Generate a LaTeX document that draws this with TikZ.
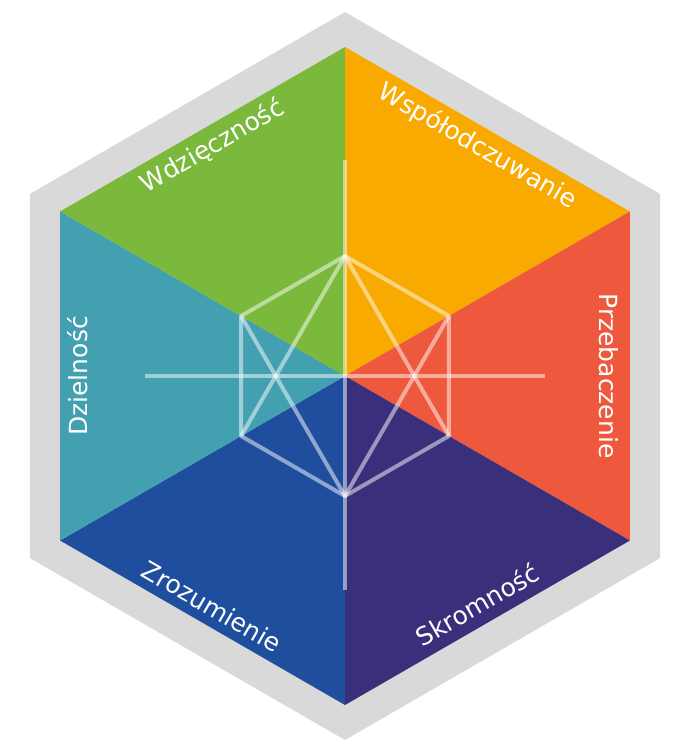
\documentclass[tikz,border=0pt]{standalone}
\usepackage{fontspec}
\setmainfont{DejaVu Sans}
\usetikzlibrary{calc}
\definecolor{framegray}{HTML}{D9D9D9}
\definecolor{virtueorange}{HTML}{F8AA00}
\definecolor{virtuered}{HTML}{EE583C}
\definecolor{virtuepurple}{HTML}{3A2F7B}
\definecolor{virtueblue}{HTML}{1F4E9F}
\definecolor{virtueteal}{HTML}{42A0B1}
\definecolor{virtuegreen}{HTML}{7AB93B}

\begin{document}
\begin{tikzpicture}[x=0.5pt, y=0.5pt,
  virtue/.style={text=white, font=\fontsize{12.5}{15}\selectfont, inner sep=0pt},
  star/.style={white, opacity=0.5, line width=2pt, line join=round}]
\useasboundingbox (-345,-376) rectangle (346,376);
\fill[framegray] (90:364) -- (30:364) -- (-30:364) -- (-90:364) -- (-150:364) -- (150:364) -- cycle;
\foreach \a/\c in {90/virtueorange,30/virtuered,-30/virtuepurple,-90/virtueblue,-150/virtueteal,150/virtuegreen} {
  \fill[\c] (0,0) -- (\a:329) -- (\a-60:329) -- cycle;
}
% inner star
\foreach \a in {90,30,-30,-90,-150,150} { \coordinate (h\a) at (\a:120); }
\coordinate (axisN) at (0,216);
\coordinate (axisS) at (0,-214);
\coordinate (axisW) at (-200,0);
\coordinate (axisE) at (200,0);
\draw[star] (axisN) -- (axisS);
\draw[star] (axisW) -- (axisE);
\draw[star] (h90) -- (h30) -- (h-30) -- (h-90) -- (h-150) -- (h150) -- cycle;
\draw[star] (h-150) -- (h90) -- (h-30);
\draw[star] (h150) -- (h-90) -- (h30);
% labels
\node[virtue, rotate=-30] (wspol) at (60:265) {Współodczuwanie};
\node[virtue, rotate=-90] (przeb) at (0:264) {Przebaczenie};
\node[virtue, rotate=30] (skrom) at (-60:264) {Skromność};
\node[virtue, rotate=-30] (zrozu) at (-120:266) {Zrozumienie};
\node[virtue, rotate=90] (dziel) at (180:267) {Dzielność};
\node[virtue, rotate=30] (wdzie) at (120:265) {Wdzięczność};
\end{tikzpicture}
\end{document}
